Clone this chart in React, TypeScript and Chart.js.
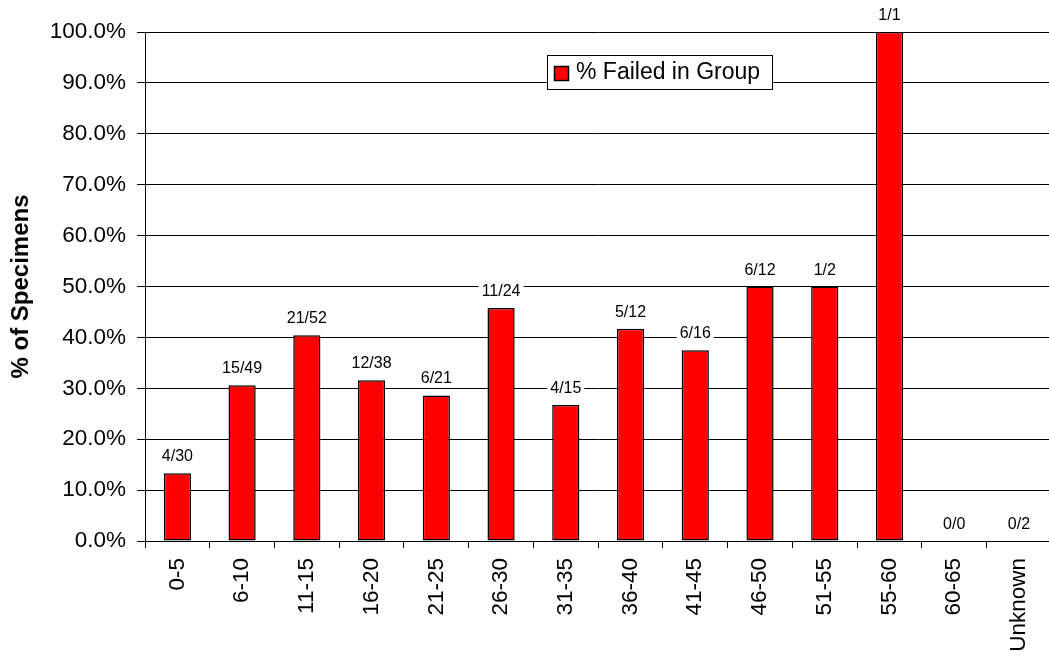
import React, { useEffect, useRef } from "react";
import { Chart, registerables } from "chart.js";

Chart.register(...registerables);

const categories = ["0-5", "6-10", "11-15", "16-20", "21-25", "26-30", "31-35", "36-40", "41-45", "46-50", "51-55", "55-60", "60-65", "Unknown"];
const failedCounts = [4, 15, 21, 12, 6, 11, 4, 5, 6, 6, 1, 1, 0, 0];
const totalCounts = [30, 49, 52, 38, 21, 24, 15, 12, 16, 12, 2, 1, 0, 2];
const percentFailed = [13.3, 30.6, 40.4, 31.6, 28.6, 45.8, 26.7, 41.7, 37.5, 50.0, 50.0, 100.0, 0, 0];
const seriesName = "% Failed in Group";
const yTitle = "% of Specimens";

const FONT = '"Liberation Sans", Arial, sans-serif';

const labelPlugin = {
  id: "fractionLabels",
  afterDatasetsDraw(chart: any) {
    const ctx = chart.ctx;
    const meta = chart.getDatasetMeta(0);
    ctx.save();
    ctx.font = `16px ${FONT}`;
    ctx.textAlign = "center";
    ctx.textBaseline = "alphabetic";
    meta.data.forEach((bar: any, i: number) => {
      const text = `${failedCounts[i]}/${totalCounts[i]}`;
      const w = ctx.measureText(text).width;
      const base = bar.y - 12;
      ctx.fillStyle = "#ffffff";
      ctx.fillRect(bar.x - w / 2 - 3, base - 14, w + 6, 18);
      ctx.fillStyle = "#000000";
      ctx.fillText(text, bar.x, base);
    });
    ctx.restore();
  },
};

const legendPlugin = {
  id: "boxLegend",
  afterDraw(chart: any) {
    const ctx = chart.ctx;
    const area = chart.chartArea;
    const x = area.left + 402;
    const y = area.top + 23;
    const w = 225;
    const h = 34;
    ctx.save();
    ctx.fillStyle = "#ffffff";
    ctx.fillRect(x, y, w, h);
    ctx.strokeStyle = "#000000";
    ctx.lineWidth = 1;
    ctx.strokeRect(x + 0.5, y + 0.5, w, h);
    ctx.fillStyle = "#ff0000";
    ctx.fillRect(x + 7, y + 11, 15, 15);
    ctx.lineWidth = 1.5;
    ctx.strokeRect(x + 7.5, y + 11.5, 14, 14);
    ctx.fillStyle = "#000000";
    ctx.font = `23px ${FONT}`;
    ctx.textAlign = "left";
    ctx.textBaseline = "middle";
    ctx.fillText(chart.data.datasets[0].label, x + 29, y + 18);
    ctx.restore();
  },
};

export default function App() {
  const ref = useRef<HTMLCanvasElement | null>(null);

  useEffect(() => {
    document.body.style.margin = "0";
    const canvas = ref.current!;
    const chart = new Chart(canvas, {
      type: "bar",
      data: {
        labels: categories,
        datasets: [
          {
            label: seriesName,
            data: percentFailed,
            backgroundColor: "#ff0000",
            borderColor: "#000000",
            borderWidth: 1.5,
            borderSkipped: false,
            categoryPercentage: 1,
            barPercentage: 0.42,
          },
        ],
      },
      options: {
        responsive: false,
        animation: false,
        layout: { padding: { top: 32, right: 1, left: 0, bottom: 0 } },
        plugins: {
          legend: { display: false },
          tooltip: { enabled: false },
        },
        scales: {
          x: {
            grid: {
              offset: true,
              drawOnChartArea: false,
              drawTicks: true,
              tickLength: 7,
              color: "#000000",
            },
            border: { display: true, color: "#000000", width: 1 },
            ticks: {
              color: "#000000",
              font: { family: FONT, size: 22.5 },
              minRotation: 90,
              maxRotation: 90,
              padding: 10,
              autoSkip: false,
            },
            afterFit(scale: any) {
              scale.height = 117;
            },
          },
          y: {
            min: 0,
            max: 100,
            grid: {
              color: "#000000",
              tickLength: 8,
              drawTicks: true,
            },
            border: { display: true, color: "#000000", width: 1 },
            ticks: {
              stepSize: 10,
              color: "#000000",
              font: { family: FONT, size: 22.5 },
              padding: 11,
              callback: (v: any) => `${Number(v).toFixed(1)}%`,
            },
            title: {
              display: true,
              text: yTitle,
              color: "#000000",
              font: { family: FONT, size: 24, weight: "bold" },
              padding: { top: 7, bottom: 0 },
            },
            afterFit(scale: any) {
              scale.width = 145;
            },
          },
        },
      },
      plugins: [labelPlugin, legendPlugin],
    });
    return () => chart.destroy();
  }, []);

  return (
    <div style={{ width: 1049, height: 658, overflow: "hidden", background: "#ffffff" }}>
      <canvas ref={ref} width={1056} height={658} style={{ display: "block" }} />
    </div>
  );
}
